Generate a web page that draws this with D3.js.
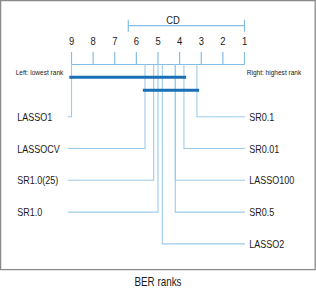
<!DOCTYPE html>
<html><head><meta charset="utf-8">
<script src="https://cdn.jsdelivr.net/npm/d3@7"></script>
<style>
html,body{margin:0;padding:0;background:#fff;}
text{font-family:"Liberation Sans",Arial,sans-serif;fill:#1a1a1a;}
</style></head>
<body>
<script>
const methods = ["LASSO1","LASSOCV","SR1.0(25)","SR1.0","LASSO2","SR0.5","LASSO100","SR0.01","SR0.1"];
const avgRanks = [9.0, 5.6, 5.2, 5.0, 4.8, 4.2, 4.2, 3.8, 3.2];
const tickValues = [9,8,7,6,5,4,3,2,1];
const cdValue = 5.373;
const cliqueFrom = ["LASSO1","LASSOCV"];
const cliqueTo = ["SR0.01","SR0.1"];
const leftCaption = "Left: lowest rank";
const rightCaption = "Right: highest rank";
const title = "BER ranks";

const W = 316, H = 289;
const svg = d3.select("body").append("svg").attr("width", W).attr("height", H);

svg.append("rect").attr("x",0.6).attr("y",0.6).attr("width",314.6).attr("height",269)
  .attr("fill","none").attr("stroke","#8a8a8a").attr("stroke-width",1.3);

const x = d3.scaleLinear().domain([9,1]).range([71.5,244.5]);
const lineCol = "#9dcbea", axisCol = "#86bde6", barCol = "#1a6fb5";
const axisY = 64.5;
const SX = 0.82;

function txt(sel, px, py, size, s, anchor){
  return sel.append("text").attr("transform",`translate(${px},${py}) scale(${SX},1)`)
    .attr("text-anchor",anchor||"start").attr("font-size",size).text(s);
}

const g = svg.append("g");
// CD bar
const cdY = 25.7;
g.append("line").attr("x1",x(1+cdValue)).attr("x2",x(1)).attr("y1",cdY).attr("y2",cdY)
  .attr("stroke",axisCol).attr("stroke-width",1.2);
[1+cdValue,1].forEach(v=>g.append("line").attr("x1",x(v)).attr("x2",x(v)).attr("y1",cdY-6).attr("y2",cdY+6)
  .attr("stroke",axisCol).attr("stroke-width",1.2));
txt(g,173,23.5,11.5,"CD","middle");

// axis
g.append("line").attr("x1",x(9)).attr("x2",x(1)).attr("y1",axisY).attr("y2",axisY)
  .attr("stroke",axisCol).attr("stroke-width",1.2);
g.selectAll(".tk").data(tickValues).join("line")
  .attr("x1",d=>x(d)).attr("x2",d=>x(d)).attr("y1",52).attr("y2",axisY)
  .attr("stroke",axisCol).attr("stroke-width",1.2);
tickValues.forEach(d=>txt(g,x(d),45,11.5,d,"middle"));

txt(g,15.7,74.5,8,leftCaption);
txt(g,246.7,74.5,8,rightCaption);

// method lines
const items = methods.map((m,i)=>({m, r:avgRanks[i]}));
const nLeft = Math.floor(items.length/2);
const left = items.slice(0,nLeft);
const right = items.slice(nLeft).reverse();
const rowY = i => 116.7 + 31.8*i;

left.forEach((d,i)=>{
  const y = rowY(i);
  g.append("path").attr("d",`M${x(d.r)},${axisY}V${y}H67.7`)
    .attr("fill","none").attr("stroke",lineCol).attr("stroke-width",1.1);
  txt(g,17.3,y+4,11,d.m);
});
right.forEach((d,i)=>{
  const y = rowY(i);
  g.append("path").attr("d",`M${x(d.r)},${axisY}V${y}H245`)
    .attr("fill","none").attr("stroke",lineCol).attr("stroke-width",1.1);
  txt(g,249.3,y+4,11,d.m);
});

// cliques
const rankOf = m => avgRanks[methods.indexOf(m)];
cliqueFrom.forEach((f,i)=>{
  const y = 77.3 + 13*i;
  g.append("line").attr("x1",x(rankOf(f)+0.1)).attr("x2",x(rankOf(cliqueTo[i])-0.1))
    .attr("y1",y).attr("y2",y).attr("stroke",barCol).attr("stroke-width",3);
});

txt(svg,158,285.5,12,title,"middle");
</script>
</body></html>
